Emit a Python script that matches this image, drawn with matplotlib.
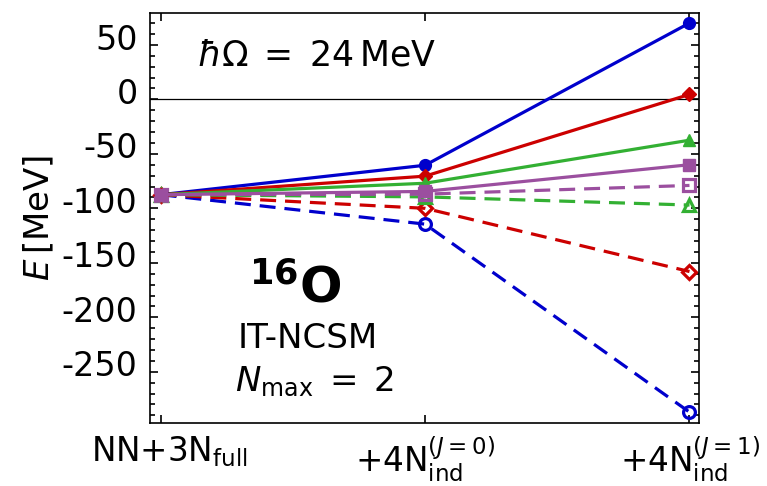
import matplotlib
matplotlib.use("Agg")
import matplotlib.pyplot as plt
from matplotlib.ticker import MultipleLocator
from matplotlib.transforms import ScaledTranslation

plt.rcParams['axes.unicode_minus'] = False
plt.rcParams['mathtext.fontset'] = 'dejavusans'

# Stages of the calculation
stages = [r'NN+3N$_{\rm full}$', r'+4N$_{\rm ind}^{(J=0)}$', r'+4N$_{\rm ind}^{(J=1)}$']

# Ground-state energies [MeV]
blue_solid = [-87.5, -60.5, 70.0]
red_solid = [-87.5, -70.5, 4.5]
green_solid = [-87.5, -77.0, -37.5]
purple_solid = [-87.5, -84.5, -60.0]
purple_dashed = [-87.5, -87.0, -79.0]
green_dashed = [-87.5, -89.5, -97.0]
red_dashed = [-87.5, -100.0, -158.0]
blue_dashed = [-87.5, -114.5, -287.0]

BLUE = '#0000cc'
RED = '#cc0000'
GREEN = '#33b033'
PURPLE = '#9b4f9f'

fig = plt.figure(figsize=(7.67, 4.86), dpi=100)
ax = fig.add_axes([0.1956, 0.1296, 0.7154, 0.8443])

x = list(range(len(stages)))
lw = 2.3
ms = 8.5
dash = (0, (5, 2.8))

ax.axhline(0, color='black', lw=0.9, zorder=1)

ax.plot(x, blue_dashed, ls=dash, color=BLUE, lw=lw, marker='o', ms=ms, mfc='none', mew=2.3)
ax.plot(x, red_dashed, ls=dash, color=RED, lw=lw, marker='D', ms=ms - 1, mfc='none', mew=2.3)
ax.plot(x, green_dashed, ls=dash, color=GREEN, lw=lw, marker='^', ms=ms + 0.5, mfc='none', mew=2.3)
ax.plot(x, purple_dashed, ls=dash, color=PURPLE, lw=lw, marker='s', ms=ms - 0.5, mfc='none', mew=2.3)

ax.plot(x, blue_solid, ls='-', color=BLUE, lw=lw, marker='o', ms=ms)
ax.plot(x, red_solid, ls='-', color=RED, lw=lw, marker='D', ms=ms - 1)
ax.plot(x, green_solid, ls='-', color=GREEN, lw=lw, marker='^', ms=ms + 0.5)
ax.plot(x, purple_solid, ls='-', color=PURPLE, lw=lw, marker='s', ms=ms - 0.5)

ax.set_xlim(-0.04, 2.035)
ax.set_ylim(-297, 79.5)
ax.set_xticks(x)
ax.set_xticklabels(stages, fontsize=23.5)
ax.yaxis.set_major_locator(MultipleLocator(50))
ax.yaxis.set_minor_locator(MultipleLocator(10))
ax.tick_params(axis='y', labelsize=24, pad=9)
ax.tick_params(which='both', direction='in', top=True, right=True, width=1.2)
ax.tick_params(which='major', length=6)
ax.tick_params(which='minor', length=3.5)
ax.tick_params(axis='x', which='minor', bottom=False, top=False)
ax.tick_params(axis='x', pad=8)
for s in ax.spines.values():
    s.set_linewidth(1.2)

# y tick labels sit slightly above their ticks
lift = ScaledTranslation(0, 6 / 72, fig.dpi_scale_trans)
for lab in ax.get_yticklabels():
    lab.set_transform(lab.get_transform() + lift)
# first x label sits slightly right of its tick
shift = ScaledTranslation(6 / 72, 0, fig.dpi_scale_trans)
xlabs = ax.get_xticklabels()
xlabs[0].set_transform(xlabs[0].get_transform() + shift)

ax.set_ylabel(r'$E\,$[MeV]', fontsize=24.5, labelpad=4)

ax.text(0.086, 0.895, r'$\hbar\Omega\;=\;24\,\mathrm{MeV}$', transform=ax.transAxes,
        fontsize=25, ha='left', va='center')
ax.text(0.264, 0.33, r'$^{\mathbf{16}}\mathbf{O}$', transform=ax.transAxes,
        fontsize=36, ha='center', va='center', fontweight='bold')
ax.text(0.288, 0.205, 'IT-NCSM', transform=ax.transAxes,
        fontsize=24.5, ha='center', va='center')
ax.text(0.30, 0.10, r'$N_{\rm max}\;=\;2$', transform=ax.transAxes,
        fontsize=24.5, ha='center', va='center')

fig.savefig('out.png', dpi=100)
